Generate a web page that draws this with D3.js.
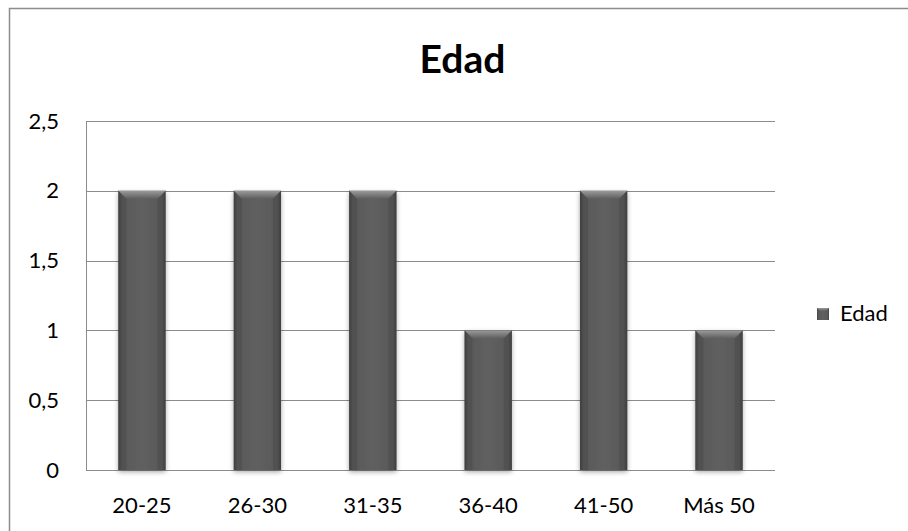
<!DOCTYPE html>
<html><head><meta charset="utf-8">
<script src="https://cdn.jsdelivr.net/npm/d3@7"></script>
<style>body{margin:0;background:#fff;} svg{display:block;font-family:Lato,"Open Sans",sans-serif;}</style>
</head><body>
<script>
const categories = ["20-25","26-30","31-35","36-40","41-50","Más 50"];
const values = [2,2,2,1,2,1];
const yTicks = [0,0.5,1,1.5,2,2.5];
const yTickLabels = ["0","0,5","1","1,5","2","2,5"];
const seriesName = "Edad";
const title = "Edad";

const W=908,H=531;
const svg=d3.select("body").append("svg").attr("width",W).attr("height",H);
const defs=svg.append("defs");
const bodyGrad=defs.append("linearGradient").attr("id","bodyG").attr("x1","0").attr("x2","1");
[[0,"#3c3c3c"],[0.08,"#585858"],[0.5,"#606060"],[0.92,"#585858"],[1,"#3c3c3c"]].forEach(s=>bodyGrad.append("stop").attr("offset",s[0]).attr("stop-color",s[1]));
const topGrad=defs.append("linearGradient").attr("id","topG").attr("x1","0").attr("x2","0").attr("y1","0").attr("y2","1");
[[0,"#9a9a9a"],[1,"#5e5e5e"]].forEach(s=>topGrad.append("stop").attr("offset",s[0]).attr("stop-color",s[1]));
const shadow=defs.append("filter").attr("id","sh").attr("x","-20%").attr("y","-20%").attr("width","140%").attr("height","140%");
shadow.append("feGaussianBlur").attr("in","SourceAlpha").attr("stdDeviation",2.5);
shadow.append("feOffset").attr("dx",0).attr("dy",2).attr("result","b");
shadow.append("feComponentTransfer").append("feFuncA").attr("type","linear").attr("slope",0.35);
const fm=shadow.append("feMerge");fm.append("feMergeNode");fm.append("feMergeNode").attr("in","SourceGraphic");

// outer border
svg.append("rect").attr("x",9.5).attr("y",8.5).attr("width",W).attr("height",H).attr("fill","#fff").attr("stroke","#8c8c8c").attr("stroke-width",1.5);

const L=86,R=775,T=121,B=470;
const x=d3.scaleBand().domain(categories).range([L,R]).paddingInner(0.59).paddingOuter(0.28);
const y=d3.scaleLinear().domain([0,2.5]).range([B,T]);

// gridlines
svg.append("g").selectAll("line").data(yTicks).join("line")
 .attr("x1",L).attr("x2",R).attr("y1",d=>Math.round(y(d))+0.5).attr("y2",d=>Math.round(y(d))+0.5)
 .attr("stroke","#8c8c8c").attr("stroke-width",1);
// y axis line
svg.append("line").attr("x1",L+0.5).attr("x2",L+0.5).attr("y1",T).attr("y2",B).attr("stroke","#8c8c8c");

// y labels
const yAxis=d3.axisLeft(y).tickValues(yTicks).tickFormat((d,i)=>yTickLabels[i]).tickSize(0).tickPadding(0);
const ya=svg.append("g").attr("transform",`translate(59,0)`).call(yAxis);
ya.select(".domain").remove();
ya.selectAll("text").attr("font-size",22).attr("fill","#000").attr("font-family","Lato,'Open Sans',sans-serif").attr("text-anchor","end");

// x labels
const xAxis=d3.axisBottom(x).tickSize(0).tickPadding(0);
const xa=svg.append("g").attr("transform",`translate(0,${513-0.71*22})`).call(xAxis);
xa.select(".domain").remove();
xa.selectAll("text").attr("font-size",22).attr("fill","#000").attr("font-family","Lato,'Open Sans',sans-serif");

// bars
const bars=svg.append("g").selectAll("g").data(values).join("g");
bars.each(function(v,i){
  const g=d3.select(this);
  const bx=x(categories[i]), bw=x.bandwidth(), by=y(v), bh=y(0)-y(v);
  g.append("rect").attr("x",bx).attr("y",by).attr("width",bw).attr("height",bh).attr("fill","url(#bodyG)").attr("filter","url(#sh)");
  const bev=8;
  g.append("path").attr("d",`M${bx},${by} L${bx+bw},${by} L${bx+bw-bev},${by+bev} L${bx+bev},${by+bev} Z`).attr("fill","url(#topG)");
  g.append("path").attr("d",`M${bx},${by} L${bx+bev},${by+bev} L${bx+bev},${by+bh} L${bx},${by+bh} Z`).attr("fill","#444").attr("opacity",0.35);
  g.append("path").attr("d",`M${bx+bw},${by} L${bx+bw-bev},${by+bev} L${bx+bw-bev},${by+bh} L${bx+bw},${by+bh} Z`).attr("fill","#444").attr("opacity",0.35);
});

// title
svg.append("text").attr("x",462.5).attr("y",73).attr("text-anchor","middle").attr("font-size",39).attr("font-weight","bold").attr("fill","#000").text(title);

// legend
const lg=svg.append("g").attr("transform","translate(817,314)");
lg.append("rect").attr("x",0).attr("y",-6).attr("width",12).attr("height",12).attr("fill","url(#bodyG)");
lg.append("path").attr("d","M0,-6 L12,-6 L9,-3 L3,-3 Z").attr("fill","url(#topG)");
lg.append("text").attr("x",23).attr("y",7).attr("font-size",22).attr("fill","#000").text(seriesName);
</script>
</body></html>
